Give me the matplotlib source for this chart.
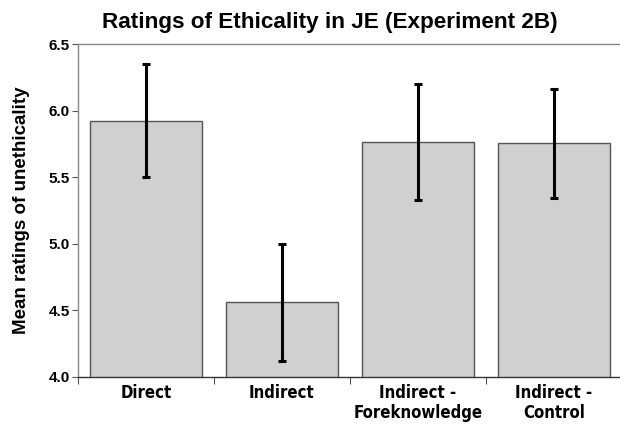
import matplotlib
matplotlib.use("Agg")
import matplotlib.pyplot as plt
from matplotlib import font_manager
from matplotlib.font_manager import FontProperties

categories = ["Direct", "Indirect", "Indirect -\nForeknowledge", "Indirect -\nControl"]
means = [5.925, 4.56, 5.765, 5.755]
errors = [0.425, 0.44, 0.435, 0.41]
yticks = [4.0, 4.5, 5.0, 5.5, 6.0, 6.5]

narrow_file = None
for key in ["LiberationSansNarrow-Bold.", "DejaVuSansCondensed-Bold.", "Condensed-Bold", "Narrow-Bold"]:
    for f in font_manager.fontManager.ttflist:
        if key in f.fname.split("/")[-1] and "Italic" not in f.fname and "Oblique" not in f.fname:
            narrow_file = f.fname
            break
    if narrow_file:
        break
if narrow_file:
    xfont = FontProperties(fname=narrow_file, size=12)
else:
    xfont = FontProperties(family="Liberation Sans", weight="bold", size=11)

fig = plt.figure(figsize=(6.2, 4.25), dpi=100)
ax = fig.add_axes([78/620, 1-377/425, 544/620, (377-44)/425])

x = list(range(len(categories)))
ax.bar(x, means, width=0.83, color="#d0d0d0", edgecolor="#555555", linewidth=1.0, zorder=2)
ax.errorbar(x, means, yerr=errors, fmt="none", ecolor="black", elinewidth=2.2,
            capsize=3, capthick=2.2, zorder=3)

ax.set_xlim(-0.5, 3.5)
ax.set_ylim(4.0, 6.5)
ax.set_yticks(yticks)
ax.set_yticklabels([f"{v:.1f}" for v in yticks], fontsize=11, fontweight="bold",
                   family="Liberation Sans")
ax.set_xticks([i + 0.5 for i in range(-1, len(categories))])
ax.set_xticklabels([])
ax.set_xticks(x, minor=True)
ax.set_xticklabels(categories, minor=True, fontproperties=xfont, linespacing=1.15)
ax.tick_params(axis="x", which="minor", length=0, pad=5)
ax.tick_params(axis="x", which="major", length=5, color="#555555", direction="out")
ax.tick_params(axis="y", length=4, color="#555555", direction="out", pad=2)

for s in ["left", "top", "bottom", "right"]:
    ax.spines[s].set_color("#888888")
    ax.spines[s].set_linewidth(1.0)
ax.spines["bottom"].set_color("#333333")

ax.set_ylabel("Mean ratings of unethicality", fontsize=13.5, fontweight="bold",
              family="Liberation Sans", labelpad=13)
fig.text(330/620, 1-28/425, "Ratings of Ethicality in JE (Experiment 2B)", ha="center", va="baseline",
         fontsize=16.2, fontweight="bold", family="Liberation Sans")

fig.savefig("out.png", dpi=100)
